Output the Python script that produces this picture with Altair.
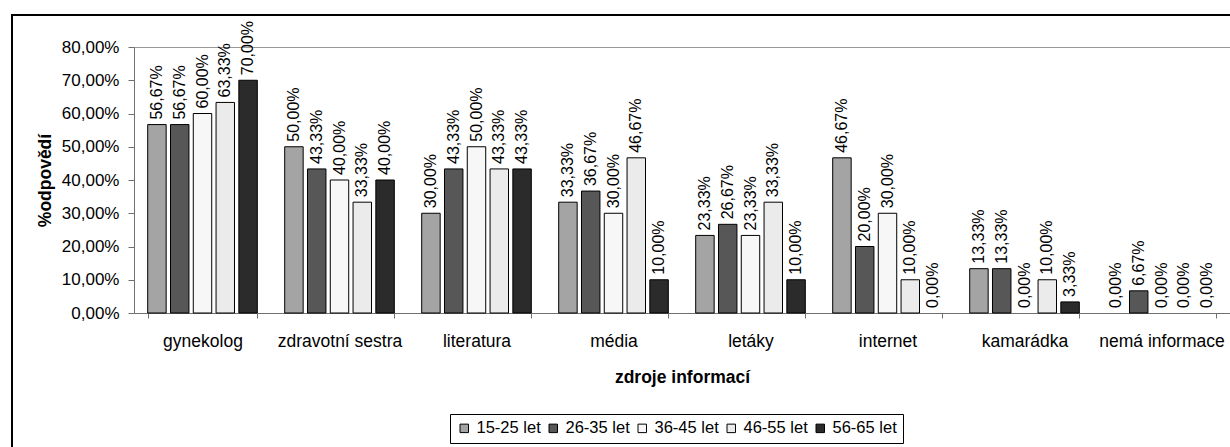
import altair as alt
import pandas as pd

# Information sources and respondent age groups
categories = ["gynekolog", "zdravotní sestra", "literatura", "média",
              "letáky", "internet", "kamarádka", "nemá informace"]
age_groups = ["15-25 let", "26-35 let", "36-45 let", "46-55 let", "56-65 let"]

# Share of answers (%) per source, one list per age group
share_15_25 = [56.67, 50.00, 30.00, 33.33, 23.33, 46.67, 13.33, 0.00]
share_26_35 = [56.67, 43.33, 43.33, 36.67, 26.67, 20.00, 13.33, 6.67]
share_36_45 = [60.00, 40.00, 50.00, 30.00, 23.33, 30.00, 0.00, 0.00]
share_46_55 = [63.33, 33.33, 43.33, 46.67, 33.33, 10.00, 10.00, 0.00]
share_56_65 = [70.00, 40.00, 43.33, 10.00, 10.00, 0.00, 3.33, 0.00]

y_ticks = [0.0, 0.1, 0.2, 0.3, 0.4, 0.5, 0.6, 0.7, 0.8]
group_colors = ["#a4a4a4", "#575757", "#f7f7f7", "#ebebeb", "#2b2b2b"]

series = [share_15_25, share_26_35, share_36_45, share_46_55, share_56_65]
rows = []
for group, values in zip(age_groups, series):
    for cat, v in zip(categories, values):
        rows.append({
            "zdroj": cat,
            "skupina": group,
            "podil": v / 100.0,
            "popisek": f"{v:.2f}".replace(".", ",") + "%",
        })
df = pd.DataFrame(rows)

W, H = 1096, 266
FONT = "Liberation Sans"
AXIS_GREY = "#707070"

x_enc = alt.X(
    "zdroj:N",
    sort=categories,
    scale=alt.Scale(paddingInner=0.2, paddingOuter=0.1),
    axis=alt.Axis(
        title="zdroje informací",
        labelAngle=0,
        labelFontSize=17.5,
        labelColor="black",
        labelPadding=14,
        labelOverlap=False,
        tickBand="extent",
        tickSize=5,
        tickColor=AXIS_GREY,
        domainColor=AXIS_GREY,
        titleFontSize=17.5,
        titleFontWeight="bold",
        titleColor="black",
        titleX=W / 2,
        titleY=64,
        titleBaseline="middle",
        titleAlign="center",
    ),
)
x_off = alt.XOffset(
    "skupina:N",
    sort=age_groups,
    scale=alt.Scale(paddingInner=0.19, paddingOuter=0),
)
y_enc = alt.Y(
    "podil:Q",
    scale=alt.Scale(domain=[0, 0.8], nice=False, zero=True),
    axis=alt.Axis(
        values=y_ticks,
        tickCount=9,
        labelExpr="replace(format(datum.value, '.2%'), '.', ',')",
        labelFontSize=17,
        labelColor="black",
        labelPadding=9,
        labelOverlap=False,
        labelFlush=False,
        tickSize=6,
        tickColor=AXIS_GREY,
        domainColor=AXIS_GREY,
        grid=False,
        title="%odpovědí",
        titleFontSize=17.5,
        titleFontWeight="bold",
        titleColor="black",
        titleX=-89,
        titleY=H / 2,
        titleAngle=270,
        titleBaseline="middle",
        titleAlign="center",
    ),
)

# Outer chart frame (outline only)
frame = alt.Chart(pd.DataFrame({"ramec": [1]})).mark_rect(
    fillOpacity=0, fill="white", stroke="black", strokeWidth=2
).encode(
    x=alt.value(-122), x2=alt.value(1300),
    y=alt.value(-32), y2=alt.value(600),
)

# Zero shares draw no bar, only their label
bars = alt.Chart(df).transform_filter("datum.podil > 0").mark_bar(
    stroke="black", strokeWidth=1
).encode(
    x=x_enc,
    xOffset=x_off,
    y=y_enc,
    color=alt.Color(
        "skupina:N",
        sort=age_groups,
        scale=alt.Scale(domain=age_groups, range=group_colors),
        legend=alt.Legend(
            title=None,
            orient="none",
            legendX=316,
            legendY=367,
            direction="horizontal",
            columns=5,
            symbolType="square",
            symbolSize=72,
            symbolStrokeColor="black",
            symbolStrokeWidth=1,
            labelFontSize=16.5,
            labelColor="black",
            labelOffset=4,
            columnPadding=4,
            padding=6,
            strokeColor="black",
            fillColor="white",
        ),
    ),
)

labels = alt.Chart(df).mark_text(
    angle=270, align="left", baseline="middle", dx=5,
    fontSize=16, font=FONT, color="black",
).encode(
    x=x_enc,
    xOffset=x_off,
    y=y_enc,
    text="popisek:N",
)

chart = alt.layer(frame, bars, labels).properties(
    width=W,
    height=H,
    padding={"left": 134, "top": 47, "right": 0, "bottom": 134},
    autosize=alt.AutoSizeParams(type="none"),
    background="white",
).configure(
    font=FONT,
).configure_view(
    stroke="#999999",
    strokeWidth=1,
)

chart.save("out.html", embed_options={"renderer": "svg", "actions": False})
